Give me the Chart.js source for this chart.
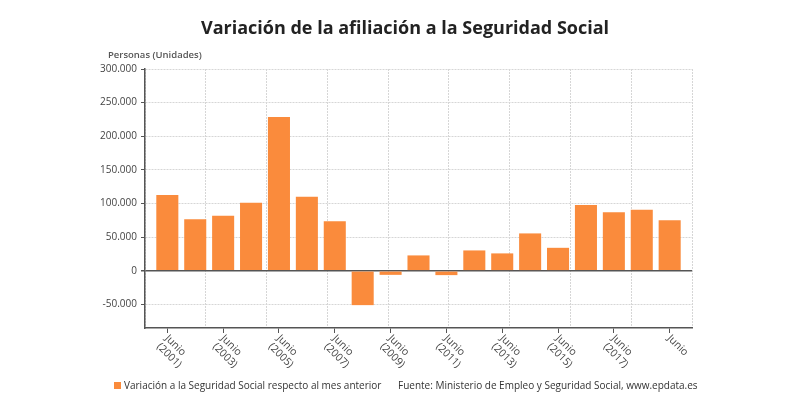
<!DOCTYPE html>
<html>
<head>
<meta charset="utf-8">
<script src="https://cdn.jsdelivr.net/npm/chart.js@4.4.1/dist/chart.umd.min.js"></script>
<style>
html, body { margin: 0; padding: 0; background: #fff; }
#wrap { width: 790px; height: 420px; }
</style>
</head>
<body>
<div id="wrap"><canvas id="chart"></canvas></div>
<script>
// datos: variación de afiliados en junio de cada año
var years = [2001, 2002, 2003, 2004, 2005, 2006, 2007, 2008, 2009, 2010,
             2011, 2012, 2013, 2014, 2015, 2016, 2017, 2018, 2019];
var values = [112600, 76500, 81800, 101200, 228700, 110100, 73500, -51000, -6000, 22900,
              -6400, 30300, 25900, 55600, 34200, 97800, 86900, 90800, 75000];
var tickYears = [2001, 2003, 2005, 2007, 2009, 2011, 2013, 2015, 2017, 2019];
var tickLabels = [['Junio', '(2001)'], ['Junio', '(2003)'], ['Junio', '(2005)'], ['Junio', '(2007)'],
                  ['Junio', '(2009)'], ['Junio', '(2011)'], ['Junio', '(2013)'], ['Junio', '(2015)'],
                  ['Junio', '(2017)'], ['Junio']];
var yTicks = [-50000, 0, 50000, 100000, 150000, 200000, 250000, 300000];

var seriesLabel = 'Variación a la Seguridad Social respecto al mes anterior';
var title = 'Variación de la afiliación a la Seguridad Social';
var unit = 'Personas (Unidades)';
var source = 'Fuente: Ministerio de Empleo y Seguridad Social, www.epdata.es';
var orange = '#fa8b3c';

function miles(v) {
  var s = Math.abs(v).toString().replace(/\B(?=(\d{3})+(?!\d))/g, '.');
  return (v < 0 ? '-' : '') + s;
}

// textos fuera del area del grafico
var textos = {
  id: 'textos',
  afterDraw: function(chart) {
    var ctx = chart.ctx;
    var xs = chart.scales.x;
    ctx.save();
    ctx.fillStyle = '#222';
    ctx.font = 'bold 18px "Open Sans"';
    ctx.textAlign = 'center';
    ctx.textBaseline = 'middle';
    ctx.fillText(title, 405, 29);

    ctx.fillStyle = '#555';
    ctx.font = '600 9.5px "Open Sans"';
    ctx.textAlign = 'left';
    ctx.fillText(unit, 108, 55);

    // etiquetas del eje x giradas
    ctx.fillStyle = '#444';
    ctx.font = '10.5px "Open Sans"';
    ctx.textBaseline = 'top';
    tickYears.forEach(function(y, i) {
      var px = xs.getPixelForValue(y);
      ctx.save();
      ctx.translate(px + 3, xs.top + 5);
      ctx.rotate(Math.PI / 4);
      tickLabels[i].forEach(function(t, j) {
        ctx.fillText(t, 0, j * 11.5);
      });
      ctx.restore();
    });

    // leyenda y fuente
    ctx.textBaseline = 'middle';
    ctx.fillStyle = chart.data.datasets[0].backgroundColor;
    ctx.fillRect(114, 382, 7, 7);
    ctx.fillStyle = '#333';
    ctx.font = '10px "Open Sans"';
    ctx.fillText(chart.data.datasets[0].label, 124, 386);
    ctx.fillText(source, 398, 386);
    ctx.restore();
  }
};

new Chart(document.getElementById('chart'), {
  type: 'bar',
  data: {
    datasets: [{
      label: seriesLabel,
      data: years.map(function(y, i) { return { x: y, y: values[i] }; }),
      backgroundColor: orange,
      categoryPercentage: 1,
      barPercentage: 0.79
    }]
  },
  plugins: [textos],
  options: {
    responsive: true,
    maintainAspectRatio: false,
    animation: false,
    layout: { padding: { top: 69, right: 98, bottom: 0, left: 0 } },
    plugins: {
      legend: { display: false },
      title: { display: false },
      tooltip: { enabled: false }
    },
    scales: {
      x: {
        type: 'linear',
        offset: false,
        min: 2000.2,
        max: 2019.8,
        afterBuildTicks: function(s) { s.ticks = tickYears.map(function(v) { return { value: v }; }); },
        afterFit: function(s) { s.height = 92; },
        ticks: { display: false },
        grid: { offset: false, drawOnChartArea: false, drawTicks: true, tickLength: 5, tickColor: '#555' },
        border: { color: '#555', width: 1.5 }
      },
      grilla: {
        type: 'linear',
        position: 'top',
        offset: false,
        min: 0,
        max: 9,
        afterBuildTicks: function(s) {
          var t = [];
          for (var i = 0; i <= 9; i++) t.push({ value: i });
          s.ticks = t;
        },
        afterFit: function(s) { s.height = 0; },
        ticks: { display: false },
        grid: { offset: false, drawTicks: false, color: '#d6d6d6' },
        border: { display: false, dash: [2, 1] }
      },
      y: {
        min: -85000,
        max: 300000,
        afterBuildTicks: function(s) { s.ticks = yTicks.map(function(v) { return { value: v }; }); },
        afterFit: function(s) { s.width = 145; },
        ticks: {
          color: '#444',
          padding: 4,
          font: { family: 'Open Sans', size: 10 },
          callback: function(v) { return miles(v); }
        },
        grid: {
          tickLength: 4,
          tickColor: '#555',
          color: function(c) { return c.tick && c.tick.value === 0 ? '#555' : '#d6d6d6'; },
          lineWidth: function(c) { return c.tick && c.tick.value === 0 ? 1.5 : 1; }
        },
        border: {
          display: true,
          color: '#555',
          width: 1.5,
          dash: function(c) { return c.tick && c.tick.value === 0 ? [] : [2, 1]; }
        }
      }
    }
  }
});
</script>
</body>
</html>
